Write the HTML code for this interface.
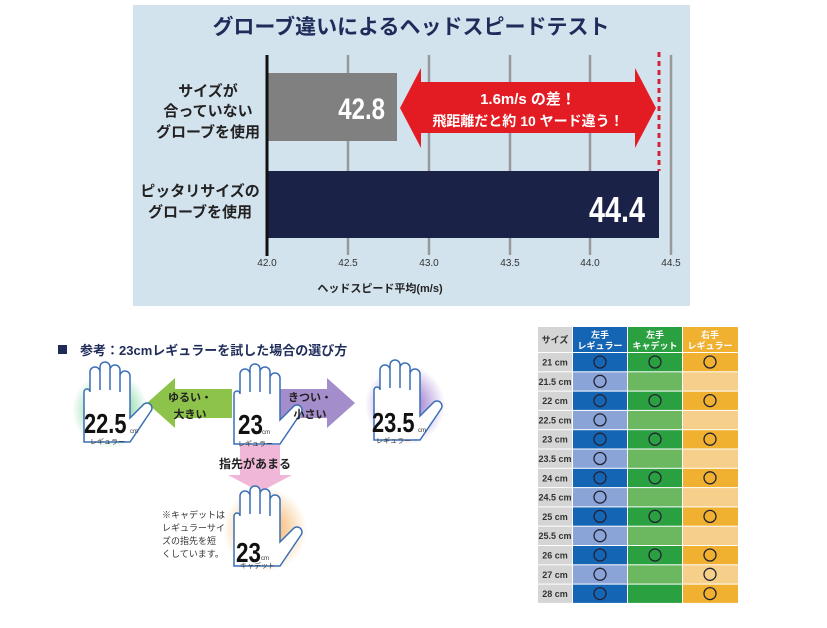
<!DOCTYPE html>
<html><head><meta charset="utf-8"><style>
body{margin:0;width:827px;height:628px;background:#fff;position:relative;overflow:hidden;font-family:"Liberation Sans","Noto Sans CJK JP",sans-serif}
.a{position:absolute}
</style></head><body>
<svg class="a" style="left:0;top:0" width="827" height="628" font-family="Liberation Sans, Noto Sans CJK JP, sans-serif">
<defs>
<radialGradient id="gg"><stop offset="0" stop-color="#3fbf6a"/><stop offset="1" stop-color="#3fbf6a" stop-opacity="0"/></radialGradient>
<radialGradient id="pg"><stop offset="0" stop-color="#7a4fc0"/><stop offset="1" stop-color="#7a4fc0" stop-opacity="0"/></radialGradient>
<radialGradient id="og"><stop offset="0" stop-color="#f5a040"/><stop offset="1" stop-color="#f5a040" stop-opacity="0"/></radialGradient>
<g id="glove"><path d="M8 30 V10 a5 5 0 0 1 10 0 V28 V5 a5 5 0 0 1 10 0 V28 V8 a5 5 0 0 1 10 0 V30 V14 a5 5 0 0 1 10 0 V56 L62 42 a5 5 0 0 1 7 7 L48 80 H2 V30 a3 3 0 0 1 6 0 Z" fill="#fff" stroke="#3a6fb5" stroke-width="1.5"/></g>
</defs>
<rect x="133" y="5" width="557" height="301" fill="#d3e3ee"/>
<text x="411" y="34" text-anchor="middle" font-size="21" font-weight="bold" fill="#1f2c5a">グローブ違いによるヘッドスピードテスト</text>
<g stroke="#999" stroke-width="2.5">
<line x1="348" y1="55" x2="348" y2="255"/><line x1="429" y1="55" x2="429" y2="255"/><line x1="510" y1="55" x2="510" y2="255"/><line x1="590" y1="55" x2="590" y2="255"/><line x1="671" y1="55" x2="671" y2="255"/></g>
<rect x="267" y="73" width="130" height="68" fill="#808080"/>
<rect x="267" y="171" width="392" height="67" fill="#1a2247"/>
<line x1="267" y1="55" x2="267" y2="256" stroke="#111" stroke-width="3"/>
<line x1="659" y1="52" x2="659" y2="171" stroke="#d0243a" stroke-width="3" stroke-dasharray="5,4"/>
<path d="M400 108 L421 68 V82 H635 V68 L656 108 L635 148 V133 H421 V148 Z" fill="#e31b23"/>
<text x="528" y="104" text-anchor="middle" font-size="15" font-weight="bold" fill="#fff">1.6m/s の差！</text>
<text x="528" y="126" text-anchor="middle" font-size="14" font-weight="bold" fill="#fff">飛距離だと約 10 ヤード違う！</text>
<text transform="translate(385 119) scale(0.8 1)" text-anchor="end" font-size="30" font-weight="bold" fill="#fff">42.8</text>
<text transform="translate(645 222) scale(0.8 1)" text-anchor="end" font-size="36" font-weight="bold" fill="#fff">44.4</text>
<g font-size="15" font-weight="bold" fill="#222" text-anchor="middle">
<text x="208" y="96">サイズが</text><text x="208" y="116">合っていない</text><text x="208" y="137">グローブを使用</text>
<text x="200" y="196">ピッタリサイズの</text><text x="200" y="217">グローブを使用</text></g>
<g font-size="10" fill="#333" text-anchor="middle"><text x="267" y="266">42.0</text><text x="348" y="266">42.5</text><text x="429" y="266">43.0</text><text x="510" y="266">43.5</text><text x="590" y="266">44.0</text><text x="671" y="266">44.5</text></g>
<text x="380" y="292" text-anchor="middle" font-size="11" font-weight="bold" fill="#222">ヘッドスピード平均(m/s)</text>
<rect x="58" y="345" width="9" height="9" fill="#1f2c5a"/>
<text x="80" y="355" font-size="13" font-weight="bold" fill="#1f2c5a">参考：23cmレギュラーを試した場合の選び方</text>
<circle cx="110" cy="410" r="38" fill="url(#gg)"/>
<circle cx="405" cy="405" r="40" fill="url(#pg)"/>
<circle cx="265" cy="530" r="42" fill="url(#og)"/>
<path d="M147 403 L175 378 V389 H232 V418 H175 V428 Z" fill="#8dc34a"/>
<path d="M355 403 L327 378 V389 H270 V418 H327 V428 Z" fill="#a48dcb"/>
<path d="M240 445 H280 V475 H292 L260 492 L228 475 H240 Z" fill="#f1b7d8"/>
<use href="#glove" x="82" y="362"/><use href="#glove" x="232" y="364"/><use href="#glove" x="372" y="360"/><use href="#glove" x="232" y="486"/>
<g font-size="11" font-weight="bold" fill="#222" text-anchor="middle"><text x="190" y="401">ゆるい・</text><text x="190" y="418">大きい</text><text x="310" y="401">きつい・</text><text x="310" y="418">小さい</text>
<text x="255" y="468" font-size="12">指先があまる</text></g>
<g font-weight="bold" fill="#111" font-size="28">
<text transform="translate(84 433) scale(0.78 1)">22.5</text><text transform="translate(238 434) scale(0.8 1)">23</text><text transform="translate(372 432) scale(0.78 1)">23.5</text><text transform="translate(236 562) scale(0.8 1)">23</text></g>
<g font-size="6" fill="#333"><text x="130" y="433">cm</text><text x="262" y="434">cm</text><text x="418" y="432">cm</text><text x="261" y="560">cm</text></g>
<g font-size="7" fill="#333"><text x="90" y="444">レギュラー</text><text x="238" y="446">レギュラー</text><text x="376" y="443">レギュラー</text><text x="240" y="568">キャデット</text></g>
<g font-size="9" fill="#333"><text x="162" y="518">※キャデットは</text><text x="162" y="531">レギュラーサイ</text><text x="162" y="544">ズの指先を短</text><text x="162" y="557">くしています。</text></g>
<g font-size="9" font-weight="bold">
<rect x="538" y="327" width="34" height="25" fill="#d5d5d5"/><text x="555" y="343" text-anchor="middle" fill="#333">サイズ</text>
<rect x="573" y="327" width="54" height="25" fill="#1565b5"/><text x="600" y="338" text-anchor="middle" fill="#fff">左手</text><text x="600" y="349" text-anchor="middle" fill="#fff">レギュラー</text>
<rect x="628" y="327" width="54" height="25" fill="#2aa040"/><text x="655" y="338" text-anchor="middle" fill="#fff">左手</text><text x="655" y="349" text-anchor="middle" fill="#fff">キャデット</text>
<rect x="683" y="327" width="55" height="25" fill="#f0b030"/><text x="710" y="338" text-anchor="middle" fill="#fff">右手</text><text x="710" y="349" text-anchor="middle" fill="#fff">レギュラー</text>
</g>
<g id="rows" font-size="9" font-weight="bold"></g>
</svg>
<script>
var g=document.getElementById('rows'),s=['21 cm','21.5 cm','22 cm','22.5 cm','23 cm','23.5 cm','24 cm','24.5 cm','25 cm','25.5 cm','26 cm','27 cm','28 cm'],h='';
for(var i=0;i<13;i++){var y=353+i*19.3,d=(i%2==0&&i!=11)||i==12;var c=d?['#1565b5','#2aa040','#f0b030']:['#8aa4d8','#6cb860','#f6cf8a'];
var gc=(i%2==0&&i<=10),oc=gc||i>=11;
h+='<rect x="538" y="'+y+'" width="34" height="18.3" fill="#d5d5d5"/><text x="555" y="'+(y+12.5)+'" text-anchor="middle" fill="#333">'+s[i]+'</text>';
h+='<rect x="573" y="'+y+'" width="54" height="18.3" fill="'+c[0]+'"/><rect x="628" y="'+y+'" width="54" height="18.3" fill="'+c[1]+'"/><rect x="683" y="'+y+'" width="55" height="18.3" fill="'+c[2]+'"/>';
h+='<circle cx="600" cy="'+(y+9)+'" r="6" fill="none" stroke="#223" stroke-width="1.3"/>';
if(gc)h+='<circle cx="655" cy="'+(y+9)+'" r="6" fill="none" stroke="#223" stroke-width="1.3"/>';
if(oc)h+='<circle cx="710" cy="'+(y+9)+'" r="6" fill="none" stroke="#223" stroke-width="1.3"/>';}
g.innerHTML=h;
</script>
</body></html>
